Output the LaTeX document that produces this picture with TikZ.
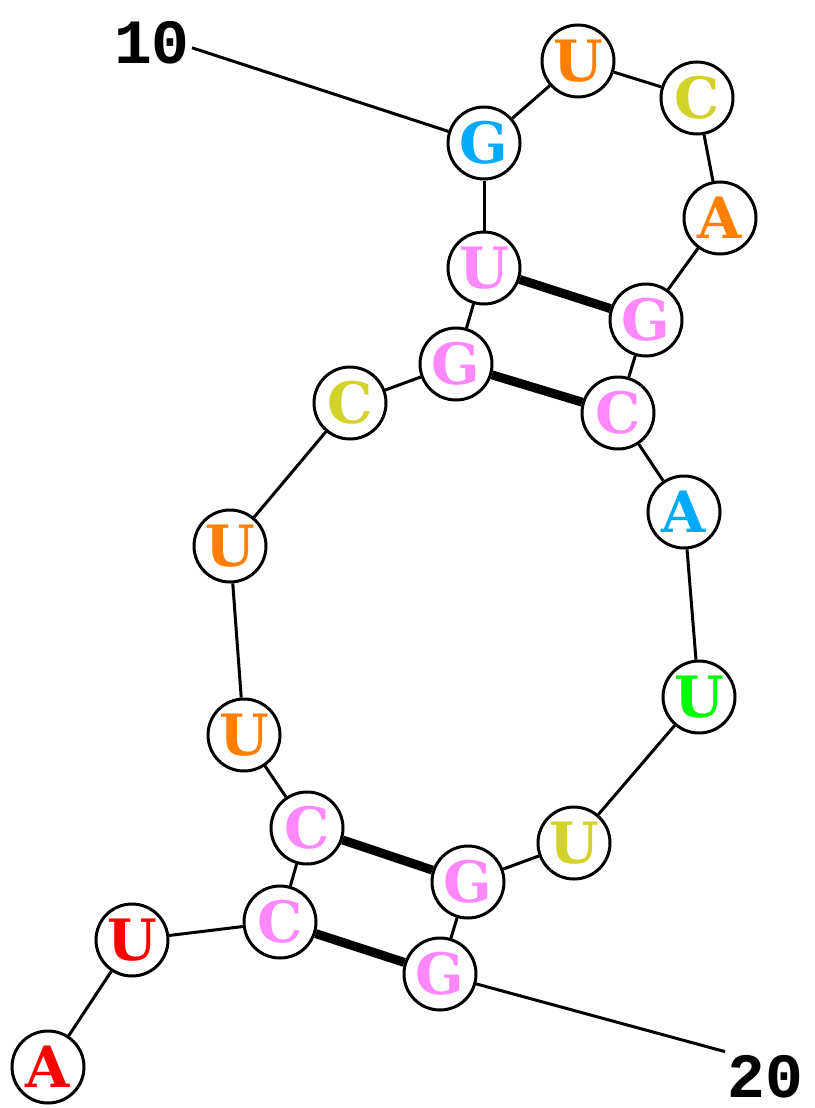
\documentclass[tikz,border=0pt]{standalone}
\usepackage{fontspec}
\usepackage{xcolor}
\usepackage{tikz}
\usetikzlibrary{positioning}
\newfontfamily\basefont{DejaVu Serif}
\newfontfamily\numfont{Liberation Mono}
\definecolor{ntred}{HTML}{FF0000}
\definecolor{ntorange}{HTML}{FF8000}
\definecolor{ntyellow}{HTML}{D2D22A}
\definecolor{ntpink}{HTML}{FF88FF}
\definecolor{ntblue}{HTML}{00AAFF}
\definecolor{ntgreen}{HTML}{00FF00}

\begin{document}
\begin{tikzpicture}[x=1pt,y=-1pt,
  nt/.style={draw,circle,line width=3pt,fill=white,minimum size=72pt,inner sep=0pt,
    font=\basefont\bfseries\fontsize{57}{57}\selectfont},
  bb/.style={line width=3pt},
  pair/.style={line width=9pt},
  num/.style={font=\numfont\bfseries\fontsize{63}{63}\selectfont,inner sep=2pt,
    text height=44pt,text depth=0pt}]
\useasboundingbox (0,0) rectangle (814,1108);
% backbone labels
\node[num,anchor=south] (l10) at (152,66) {10};
\node[num,anchor=south] (l20) at (765,1100) {20};
% nucleotides
\node[nt,text=ntred] (n1) at (48,1067) {A};
\node[nt,text=ntred] (n2) at (132,940) {U};
\node[nt,text=ntpink] (n3) at (280,922) {C};
\node[nt,text=ntpink] (n4) at (307,828) {C};
\node[nt,text=ntorange] (n5) at (244,735) {U};
\node[nt,text=ntorange] (n6) at (230,546) {U};
\node[nt,text=ntyellow] (n7) at (350,403) {C};
\node[nt,text=ntpink] (n8) at (456,364) {G};
\node[nt,text=ntpink] (n9) at (484,268) {U};
\node[nt,text=ntblue] (n10) at (484,143) {G};
\node[nt,text=ntorange] (n11) at (578,61) {U};
\node[nt,text=ntyellow] (n12) at (697,98) {C};
\node[nt,text=ntorange] (n13) at (720,218) {A};
\node[nt,text=ntpink] (n14) at (646,320) {G};
\node[nt,text=ntpink] (n15) at (618,413) {C};
\node[nt,text=ntblue] (n16) at (684,512) {A};
\node[nt,text=ntgreen] (n17) at (699,697) {U};
\node[nt,text=ntyellow] (n18) at (574,843) {U};
\node[nt,text=ntpink] (n19) at (468,882) {G};
\node[nt,text=ntpink] (n20) at (440,974) {G};
% backbone
\foreach \i [count=\j from 2] in {1,...,19}
  \draw[bb] (n\i) -- (n\j);
\draw[bb] ([yshift=-6pt]l10.east) -- (n10);
\draw[bb] (n20) -- (l20.north west);
% base pairs
\draw[pair] (n3) -- (n20);
\draw[pair] (n4) -- (n19);
\draw[pair] (n8) -- (n15);
\draw[pair] (n9) -- (n14);
\end{tikzpicture}
\end{document}
